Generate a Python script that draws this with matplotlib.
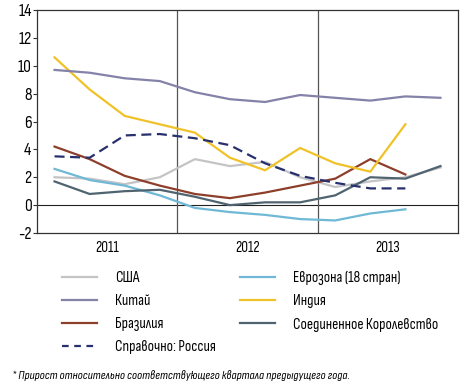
import numpy as np
import matplotlib
matplotlib.use('Agg')
import matplotlib.pyplot as plt
from matplotlib.lines import Line2D

plt.rcParams['font.family'] = ['Sofia Sans Condensed', 'PT Sans Narrow', 'DejaVu Sans']
plt.rcParams['axes.unicode_minus'] = False

# quarters 2011 Q1 .. 2013 Q4
years = ['2011', '2012', '2013']
usa = [2.0, 1.9, 1.5, 2.0, 3.3, 2.8, 3.1, 2.0, 1.3, 1.7, 2.0, 2.7]
eurozone = [2.6, 1.8, 1.4, 0.7, -0.2, -0.5, -0.7, -1.0, -1.1, -0.6, -0.3]
china = [9.7, 9.5, 9.1, 8.9, 8.1, 7.6, 7.4, 7.9, 7.7, 7.5, 7.8, 7.7]
india = [10.6, 8.3, 6.4, 5.8, 5.2, 3.4, 2.5, 4.1, 3.0, 2.4, 5.8]
brazil = [4.2, 3.3, 2.1, 1.4, 0.8, 0.5, 0.9, 1.4, 1.9, 3.3, 2.2]
uk = [1.7, 0.8, 1.0, 1.1, 0.6, 0.0, 0.2, 0.2, 0.7, 2.0, 1.9, 2.8]
russia = [3.5, 3.4, 5.0, 5.1, 4.8, 4.3, 3.0, 2.1, 1.6, 1.2, 1.2]

fig = plt.figure(figsize=(4.65, 3.84), dpi=100)
ax = fig.add_axes([37/465, 1 - 233/384, (458 - 37)/465, (233 - 10)/384])

series = [
    ('США', usa, '#c4c4c6', '-'),
    ('Китай', china, '#8482a8', '-'),
    ('Бразилия', brazil, '#8e3f2c', '-'),
    ('Справочно: Россия', russia, '#27306e', '--'),
    ('Еврозона (18 стран)', eurozone, '#6fb9d6', '-'),
    ('Индия', india, '#f0c228', '-'),
    ('Соединенное Королевство', uk, '#4f6470', '-'),
]
dash = (4.5, 2.5)
draw_order = [0, 4, 2, 5, 6, 1, 3]
for i in draw_order:
    name, vals, col, ls = series[i]
    x = np.arange(len(vals))
    ax.plot(x, vals, color=col, lw=1.6, ls=ls,
            dashes=dash if ls == '--' else (None, None), zorder=3)

ax.set_xlim(-0.5, 11.5)
ax.set_ylim(-2, 14)
ax.set_yticks(range(-2, 15, 2))
ax.set_xticks([1.5, 5.5, 9.5])
ax.set_xticklabels(years)
ax.tick_params(axis='x', length=0, labelsize=11, pad=6)
ax.tick_params(axis='y', length=3, width=0.8, labelsize=12.5, pad=1, color='#333333')
ax.axhline(0, color='#222222', lw=0.8, zorder=2)
for xv in [3.5, 7.5]:
    ax.axvline(xv, color='#555555', lw=0.9, zorder=2)
for s in ax.spines.values():
    s.set_color('#333333')
    s.set_linewidth(0.9)

handles = [Line2D([], [], color=c, lw=1.6, ls=ls, dashes=(3, 2.5) if ls == '--' else (None, None))
           for _, _, c, ls in series]
labels = [n for n, _, _, _ in series]
fs = 11
leg_kw = dict(loc='upper left', frameon=False, fontsize=fs, handlelength=25/fs,
              handletextpad=13/fs, labelspacing=0.6, borderpad=0, borderaxespad=0)
fig.legend(handles[:4], labels[:4], bbox_to_anchor=(62/465, 1 - 271/384), **leg_kw)
fig.legend(handles[4:], labels[4:], bbox_to_anchor=(240/465, 1 - 271/384), **leg_kw)

fig.text(12/465, 1 - 376/384, '* Прирост относительно соответствующего квартала предыдущего года.',
         fontsize=9, style='italic', va='center', ha='left')

fig.savefig('out.png', dpi=100)
